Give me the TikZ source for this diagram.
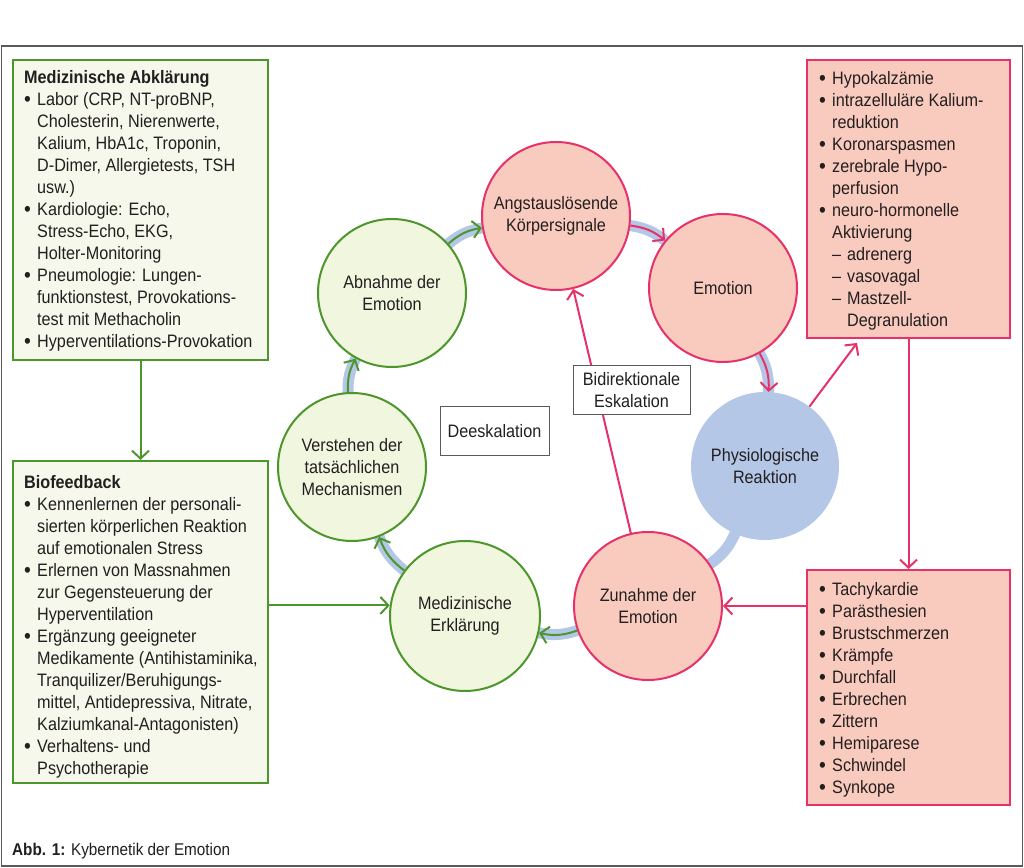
\documentclass[tikz,border=0pt]{standalone}
\usepackage{fontspec}
\setmainfont{Liberation Sans}[FakeStretch=0.9]
\usetikzlibrary{arrows.meta,backgrounds}
\definecolor{grn}{RGB}{77,150,44}
\definecolor{grnfill}{RGB}{245,248,234}
\definecolor{grncirc}{RGB}{241,246,222}
\definecolor{pnk}{RGB}{230,50,105}
\definecolor{pnkfill}{RGB}{249,203,190}
\definecolor{blu}{RGB}{180,199,231}
\definecolor{txt}{RGB}{35,31,32}
\definecolor{framec}{RGB}{90,90,90}
\newcommand\fs{\fontsize{18pt}{22pt}\selectfont}
\newcommand\bi{\makebox[13pt][l]{\raisebox{-1.3pt}{\scalebox{1.2}{\textbullet}}}}
\newcommand\ci{\hspace*{13pt}}
\newcommand\di{\hspace*{13pt}\makebox[15pt][l]{–}}
\newcommand\ei{\hspace*{28pt}}
\begin{document}
\begin{tikzpicture}[x=1pt,y=1pt,
  every node/.style={font=\fs, text=txt},
  gcirc/.style={circle, minimum size=148pt, inner sep=0pt, line width=2pt, draw=grn, fill=grncirc, align=center},
  pcirc/.style={circle, minimum size=148pt, inner sep=0pt, line width=2pt, draw=pnk, fill=pnkfill, align=center},
  bcirc/.style={circle, minimum size=148pt, inner sep=0pt, fill=blu, align=center},
  gbox/.style={rectangle, draw=grn, fill=grnfill, line width=2pt, inner sep=0pt},
  pbox/.style={rectangle, draw=pnk, fill=pnkfill, line width=2pt, inner sep=0pt},
  boxtext/.style={anchor=north west, inner sep=0pt, align=left},
  lbl/.style={rectangle, draw=framec, line width=1pt, fill=white, inner sep=0pt, align=center},
  band/.style={line width=11pt, draw=blu, shorten <=-5pt, shorten >=-5pt},
  garr/.style={line width=2pt, draw=grn, -{Straight Barb[length=8pt,width=17pt]}},
  parr/.style={line width=2pt, draw=pnk, -{Straight Barb[length=8pt,width=17pt]}},
]
\useasboundingbox (0,0) rectangle (1024,867);
\begin{scope}[on background layer]
  \fill[white] (0,0) rectangle (1024,867);
\end{scope}
\draw[framec, line width=1.3pt] (1.5,1) rectangle (1022.5,821);

% boxes
\node[gbox, minimum width=255pt, minimum height=300pt] (lt) at (140.5,657) {};
\node[gbox, minimum width=255pt, minimum height=322pt] (lb) at (140.5,245) {};
\node[pbox, minimum width=203pt, minimum height=278pt] (rt) at (908.5,668) {};
\node[pbox, minimum width=203pt, minimum height=235pt] (rb) at (908.5,179.5) {};

\node[boxtext] (ltt) at (24,799.4) {\strut\textbf{Medizinische Abklärung}\\
\bi Labor (CRP, NT-proBNP,\\
\ci Cholesterin, Nierenwerte,\\
\ci Kalium, HbA1c, Troponin,\\
\ci D-Dimer, Allergietests, TSH\\
\ci usw.)\\
\bi Kardiologie: Echo,\\
\ci Stress-Echo, EKG,\\
\ci Holter-Monitoring\\
\bi Pneumologie: Lungen-\\
\ci funktionstest, Provokations-\\
\ci test mit Methacholin\\
\bi Hyperventilations-Provokation};

\node[boxtext] (lbt) at (24,394.4) {\strut\textbf{Biofeedback}\\
\bi Kennenlernen der personali-\\
\ci sierten körperlichen Reaktion\\
\ci auf emotionalen Stress\\
\bi Erlernen von Massnahmen\\
\ci zur Gegensteuerung der\\
\ci Hyperventilation\\
\bi Ergänzung geeigneter\\
\ci Medikamente (Antihistaminika,\\
\ci Tranquilizer/Beruhigungs-\\
\ci mittel, Antidepressiva, Nitrate,\\
\ci Kalziumkanal-Antagonisten)\\
\bi Verhaltens- und\\
\ci Psychotherapie};

\node[boxtext] (rtt) at (819,798.4) {\strut\bi Hypokalzämie\\
\bi intrazelluläre Kalium-\\
\ci reduktion\\
\bi Koronarspasmen\\
\bi zerebrale Hypo-\\
\ci perfusion\\
\bi neuro-hormonelle\\
\ci Aktivierung\\
\di adrenerg\\
\di vasovagal\\
\di Mastzell-\\
\ei Degranulation};

\node[boxtext] (rbt) at (819,287.4) {\strut\bi Tachykardie\\
\bi Parästhesien\\
\bi Brustschmerzen\\
\bi Krämpfe\\
\bi Durchfall\\
\bi Erbrechen\\
\bi Zittern\\
\bi Hemiparese\\
\bi Schwindel\\
\bi Synkope};

% circles
\node[pcirc] (angst) at (556,651) {Angstauslösende\\Körpersignale};
\node[pcirc] (emo) at (723,579) {Emotion};
\node[bcirc] (phys) at (765,401) {Physiologische\\Reaktion};
\node[pcirc] (zun) at (648,261) {Zunahme der\\Emotion};
\node[gcirc, minimum size=150pt] (mederk) at (465,251) {Medizinische\\Erklärung};
\node[gcirc] (verst) at (352,400) {Verstehen der\\tatsächlichen\\Mechanismen};
\node[gcirc] (abn) at (392,574) {Abnahme der\\Emotion};

\begin{scope}[on background layer]
  \draw[band] (abn) to[bend left=16] (angst);
  \draw[band] (angst) to[bend left=16] (emo);
  \draw[band] (emo) to[bend left=16] (phys);
  \draw[band] (phys) to[bend left=16] (zun);
  \draw[band] (zun) to[bend left=16] (mederk);
  \draw[band] (mederk) to[bend left=16] (verst);
  \draw[band] (verst) to[bend left=16] (abn);
\end{scope}

\draw[garr] (abn) to[bend left=16] (angst);
\draw[parr] (angst) to[bend left=16] (emo);
\draw[parr] (emo) to[bend left=16] (phys);
\draw[garr] (zun) to[bend left=16] (mederk);
\draw[garr] (mederk) to[bend left=16] (verst);
\draw[garr] (verst) to[bend left=16] (abn);

\draw[parr] (zun) -- (angst);
\coordinate (ptip) at (857,524);
\draw[parr] (phys) -- (ptip);
\draw[parr] (rt) -- (rb);
\coordinate (rbl) at (rb.west |- zun);
\draw[parr] (rbl) -- (zun.east);
\draw[garr] (lt) -- (lb);
\coordinate (lbr) at (lb.east |- mederk.172);
\draw[garr] (lbr) -- (mederk.172);

% labels
\node[lbl, minimum width=109pt, minimum height=49pt] (deesk) at (494.5,435.5) {Deeskalation};
\node[lbl, minimum width=117pt, minimum height=49pt] (bidir) at (631.5,476.5) {Bidirektionale\\Eskalation};

\node[anchor=base west, inner sep=0pt, font=\fontsize{17pt}{19pt}\selectfont] (cap) at (12,12) {\textbf{Abb. 1:} Kybernetik der Emotion};
\end{tikzpicture}
\end{document}
